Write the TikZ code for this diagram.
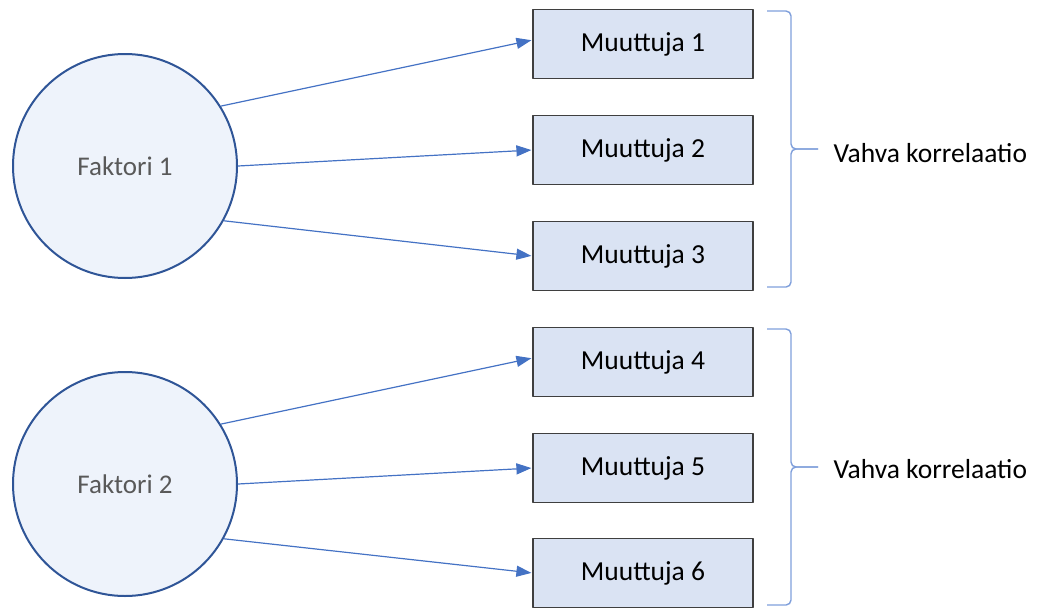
\documentclass[tikz,border=0pt]{standalone}
\usepackage{fontspec}
\setmainfont{Carlito}
\usetikzlibrary{arrows.meta}
\definecolor{reuna}{HTML}{2F5597}
\definecolor{ympyra}{HTML}{EEF3FB}
\definecolor{laatikko}{HTML}{DAE3F3}
\definecolor{laatikkoreuna}{HTML}{3F3F3F}
\definecolor{nuolivari}{HTML}{4472C4}
\definecolor{sulkuvari}{HTML}{7F9FDB}
\definecolor{harmaa}{HTML}{595959}
\begin{document}
\begin{tikzpicture}[x=1pt, y=-1pt, line join=round,
  teksti/.style={font=\fontsize{27.5}{32}\selectfont},
  faktori/.style={font=\fontsize{27}{32}\selectfont, circle, draw=reuna, line width=2pt, fill=ympyra, minimum size=224pt, text=harmaa},
  muuttuja/.style={teksti, draw=laatikkoreuna, line width=1.2pt, fill=laatikko, minimum width=220pt, minimum height=69pt, inner sep=0pt},
  nuoli/.style={draw=nuolivari, line width=1.2pt, -{Triangle[length=15pt,width=11pt]}, shorten >=1pt},
  sulje/.style={draw=sulkuvari, line width=1.4pt, rounded corners=5pt}]
  \useasboundingbox (0,0) rectangle (1038,608);
  % faktorit
  \node[faktori] (f1) at (125,166) {Faktori 1};
  \node[faktori] (f2) at (125,484) {Faktori 2};
  % muuttujat
  \foreach \i/\y in {1/44,2/150,3/256,4/362,5/468,6/573} {
    \node[muuttuja] (m\i) at (643,\y) {Muuttuja \i};
  }
  % nuolet faktoreista muuttujiin
  \draw[nuoli] (f1.32) -- ([yshift=4pt]m1.west);
  \draw[nuoli] (f1.0) -- (m2.west);
  \draw[nuoli] (f1.-29) -- (m3.west);
  \draw[nuoli] (f2.32) -- ([yshift=4pt]m4.west);
  \draw[nuoli] (f2.0) -- (m5.west);
  \draw[nuoli] (f2.-29) -- (m6.west);
  % sulut ja tekstit
  \draw[sulje] (767,11) -- (791,11) -- (791,149) -- (818,149);
  \draw[sulje] (767,287) -- (791,287) -- (791,149) -- (818,149);
  \draw[sulje] (767,329) -- (791,329) -- (791,467) -- (818,467);
  \draw[sulje] (767,605) -- (791,605) -- (791,467) -- (818,467);
  \node[teksti, anchor=west] (v1) at (830,153) {Vahva korrelaatio};
  \node[teksti, anchor=west] (v2) at (830,469) {Vahva korrelaatio};
\end{tikzpicture}
\end{document}
